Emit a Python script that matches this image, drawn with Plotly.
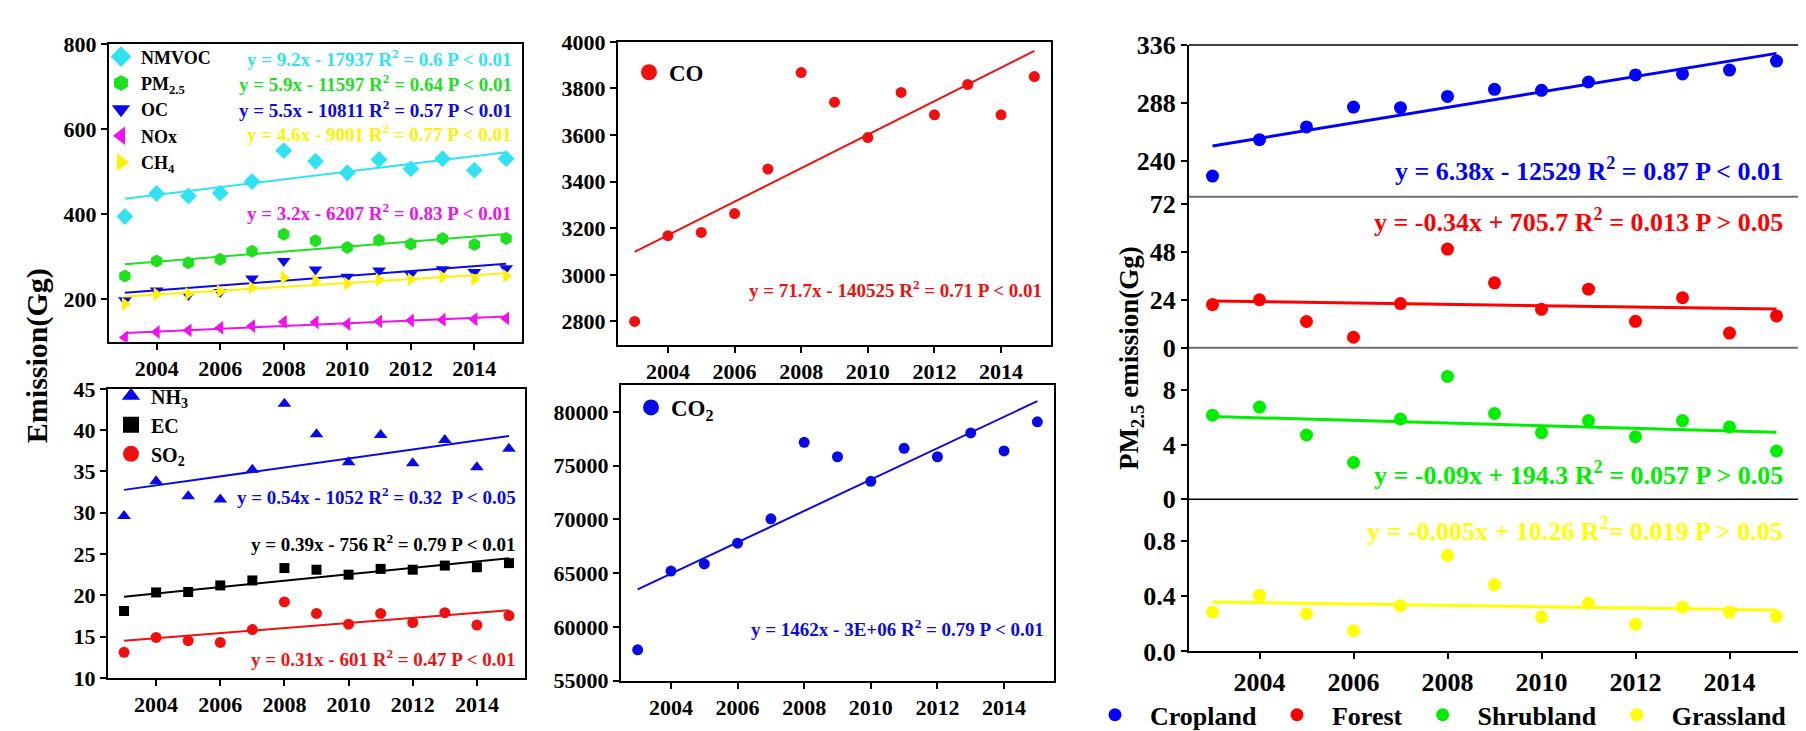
import numpy as np
import plotly.graph_objects as go

W, H = 1806, 731
FONT = "Liberation Serif"

# ---------------- data ----------------
years = list(range(2003, 2016))
tick_years = [2004, 2006, 2008, 2010, 2012, 2014]

nmvoc = [395, 449, 443, 450, 477, 550, 525, 498, 529, 507, 531, 504, 531]
pm25 = [255, 290, 286, 294, 313, 353, 338, 322, 339, 330, 343, 329, 343]
oc = [198, 221, 210, 217, 249, 290, 270, 253, 268, 259, 271, 264, 273]
nox = [110, 123, 127, 133, 137, 147, 146, 142, 148, 150, 152, 153, 155]
ch4 = [189, 212, 213, 219, 228, 251, 244, 237, 246, 247, 253, 247, 255]

nh3 = [29.6, 33.8, 32.0, 31.6, 35.2, 43.2, 39.5, 36.1, 39.4, 36.0, 38.8, 35.5, 37.75]
ec = [18.1, 20.35, 20.4, 21.2, 21.8, 23.3, 23.1, 22.5, 23.2, 23.1, 23.6, 23.4, 23.9]
so2 = [13.1, 14.9, 14.5, 14.3, 15.85, 19.2, 17.8, 16.5, 17.8, 16.7, 17.9, 16.4, 17.55]

co = [2800, 3168, 3182, 3263, 3454, 3868, 3741, 3589, 3783, 3687, 3817, 3687, 3851]
co2 = [57880, 65200, 65860, 67790, 70060, 77170, 75830, 73540, 76610, 75830, 78040, 76370, 79080]

cropland = [227.2, 257.4, 268.0, 284.5, 284.0, 293.3, 299.2, 298.4, 305.3, 311.2, 312.0, 315.2, 322.7]
forest = [21.7, 24.1, 13.2, 5.3, 22.2, 49.5, 32.6, 19.3, 29.4, 13.3, 25.1, 7.4, 16.0]
shrubland = [6.15, 6.74, 4.70, 2.69, 5.87, 8.98, 6.27, 4.87, 5.75, 4.58, 5.75, 5.29, 3.53]
grassland = [0.285, 0.407, 0.273, 0.150, 0.33, 0.695, 0.483, 0.25, 0.348, 0.197, 0.32, 0.285, 0.252]

eq_a = ["y = 9.2x - 17937 R<sup>2</sup> = 0.6 P &lt; 0.01",
        "y = 5.9x - 11597 R<sup>2</sup> = 0.64 P &lt; 0.01",
        "y = 5.5x - 10811 R<sup>2</sup> = 0.57 P &lt; 0.01",
        "y = 4.6x - 9001 R<sup>2</sup> = 0.77 P &lt; 0.01",
        "y = 3.2x - 6207 R<sup>2</sup> = 0.83 P &lt; 0.01"]
eq_b = ["y = 0.54x - 1052 R<sup>2</sup> = 0.32 \u00a0P &lt; 0.05",
        "y = 0.39x - 756 R<sup>2</sup> = 0.79 P &lt; 0.01",
        "y = 0.31x - 601 R<sup>2</sup> = 0.47 P &lt; 0.01"]
eq_c = "y = 71.7x - 140525 R<sup>2</sup> = 0.71 P &lt; 0.01"
eq_d = "y = 1462x - 3E+06 R<sup>2</sup> = 0.79 P &lt; 0.01"
eq_e = ["y = 6.38x - 12529 R<sup>2</sup> = 0.87 P &lt; 0.01",
        "y = -0.34x + 705.7 R<sup>2</sup> = 0.013 P &gt; 0.05",
        "y = -0.09x + 194.3 R<sup>2</sup> = 0.057 P &gt; 0.05",
        "y = -0.005x + 10.26 R<sup>2</sup>= 0.019 P &gt; 0.05"]

# ---------------- colours ----------------
C_CYAN = "#30E2F2"
C_GREEN = "#1EE01E"
C_BLUE = "#0A0AE8"
C_MAG = "#F010F0"
C_YEL = "#FFF200"
C_RED = "#F01010"
C_BLACK = "#000000"
E_BLUE = "#0000FF"
E_RED = "#FF0000"
E_GREEN = "#00EE00"
E_YEL = "#FFFF00"


def px_x(p):
    return p / W


def px_y(p):
    return 1 - p / H


fig = go.Figure()


def fit(vals):
    k, b = np.polyfit(years, vals, 1)
    xs = [years[0], years[-1]]
    return xs, [k * x + b for x in xs]


def add_series(vals, name, color, symbol, size, xa, ya, legend, lw=2, dummy=True, dsize=16):
    fig.add_trace(go.Scatter(x=years, y=vals, mode="markers", name=name,
                             marker=dict(symbol=symbol, size=size, color=color, line=dict(width=0)),
                             xaxis=xa, yaxis=ya, showlegend=not dummy, legend=legend))
    fx, fy = fit(vals)
    fig.add_trace(go.Scatter(x=fx, y=fy, mode="lines", line=dict(color=color, width=lw),
                             xaxis=xa, yaxis=ya, showlegend=False, hoverinfo="skip"))
    if dummy:
        fig.add_trace(go.Scatter(x=[None], y=[None], mode="markers", name=name,
                                 marker=dict(symbol=symbol, size=dsize, color=color),
                                 xaxis=xa, yaxis=ya, showlegend=True, legend=legend))


# Panel A
add_series(nmvoc, "NMVOC", C_CYAN, "diamond", 13, "x", "y", "legend")
add_series(pm25, "PM<sub>2.5</sub>", C_GREEN, "hexagon", 13, "x", "y", "legend")
add_series(oc, "OC", C_BLUE, "triangle-down", 12, "x", "y", "legend")
add_series(nox, "NOx", C_MAG, "triangle-left", 12, "x", "y", "legend")
add_series(ch4, "CH<sub>4</sub>", C_YEL, "triangle-right", 12, "x", "y", "legend")
# Panel B
add_series(nh3, "NH<sub>3</sub>", C_BLUE, "triangle-up", 12, "x2", "y2", "legend2")
add_series(ec, "EC", C_BLACK, "square", 10, "x2", "y2", "legend2")
add_series(so2, "SO<sub>2</sub>", C_RED, "circle", 11, "x2", "y2", "legend2")
# Panel C
add_series(co, "CO", C_RED, "circle", 11, "x3", "y3", "legend3")
# Panel D
add_series(co2, "CO<sub>2</sub>", C_BLUE, "circle", 11, "x4", "y4", "legend4")
# Panel E
add_series(cropland, "Cropland", E_BLUE, "circle", 13, "x5", "y5", "legend5", lw=3, dummy=False)
add_series(forest, "Forest", E_RED, "circle", 13, "x6", "y6", "legend5", lw=3, dummy=False)
add_series(shrubland, "Shrubland", E_GREEN, "circle", 13, "x7", "y7", "legend5", lw=3, dummy=False)
add_series(grassland, "Grassland", E_YEL, "circle", 13, "x8", "y8", "legend5", lw=3, dummy=False)

tickfont_l = dict(family=FONT, size=22, color="black", weight="bold")
tickfont_r = dict(family=FONT, size=26, color="black", weight="bold")


def xax(x0, x1, y_anchor, show_labels=True, showline=True, mirror=True, tf=tickfont_l, visible=True):
    return dict(domain=[px_x(x0), px_x(x1)], range=[2002.5, 2015.5], anchor=y_anchor,
                tickvals=tick_years, showgrid=False, zeroline=False, visible=visible,
                showline=showline, linecolor="black", linewidth=2, mirror=mirror,
                ticks="outside" if show_labels else "", ticklen=6, tickwidth=2, tickcolor="black",
                showticklabels=show_labels, tickfont=tf)


def yax(y0, y1, rng, tickvals, x_anchor, mirror=True, tf=tickfont_l, ticktext=None):
    d = dict(domain=[px_y(y1), px_y(y0)], range=rng, anchor=x_anchor, tickvals=tickvals,
             showgrid=False, zeroline=False, showline=True, linecolor="black", linewidth=2,
             mirror=mirror, ticks="outside", ticklen=6, tickwidth=2, tickcolor="black",
             tickfont=tf, tickformat="d")
    if ticktext is not None:
        d["ticktext"] = ticktext
    return d


layout_axes = dict(
    xaxis=xax(101, 514, "y"),
    yaxis=yax(23.3, 333, [100, 800], [200, 400, 600, 800], "x"),
    xaxis2=xax(100, 517, "y2"),
    yaxis2=yax(382, 683, [10, 45], [10, 15, 20, 25, 30, 35, 40, 45], "x2"),
    xaxis3=xax(610, 1043, "y3"),
    yaxis3=yax(20.7, 336, [2700, 4000], [2800, 3000, 3200, 3400, 3600, 3800, 4000], "x3"),
    xaxis4=xax(613, 1046, "y4"),
    yaxis4=yax(378, 686, [55000, 82500], [55000, 60000, 65000, 70000, 75000, 80000], "x4"),
    xaxis5=xax(1181, 1792, "y5", show_labels=False, showline=False, mirror=False, visible=False),
    yaxis5=yax(24, 182, [210, 336], [240, 288, 336], "x5", mirror=False, tf=tickfont_r),
    xaxis6=xax(1181, 1792, "y6", show_labels=False, showline=False, mirror=False, visible=False),
    yaxis6=yax(182, 339.3, [0, 75.7], [0, 24, 48, 72], "x6", mirror=False, tf=tickfont_r),
    xaxis7=xax(1181, 1792, "y7", show_labels=False, showline=False, mirror=False, visible=False),
    yaxis7=yax(339.3, 497, [0, 11.07], [0, 4, 8], "x7", mirror=False, tf=tickfont_r),
    xaxis8=xax(1181, 1792, "y8", show_labels=True, showline=True, mirror=False, tf=tickfont_r),
    yaxis8=yax(497, 655.5, [0, 1.1], [0, 0.4, 0.8], "x8", mirror=False, tf=tickfont_r,
               ticktext=["0.0", "0.4", "0.8"]),
)

# ---------------- annotations ----------------
ann = []


def eq(text, xr, yc, color, size):
    ann.append(dict(text=text, x=px_x(xr), y=px_y(yc), xref="paper", yref="paper",
                    xanchor="right", yanchor="middle", showarrow=False,
                    font=dict(family=FONT, size=size, color=color, weight="bold")))


for t, yc, c in zip(eq_a, [38, 63, 91, 116, 198], [C_CYAN, C_GREEN, C_BLUE, C_YEL, C_MAG]):
    eq(t, 506, yc, c, 19)
for t, yc, c in zip(eq_b, [494, 543, 662], [C_BLUE, C_BLACK, C_RED]):
    eq(t, 510, yc, c, 19)
eq(eq_c, 1036, 278, C_RED, 19)
eq(eq_d, 1038, 631, C_BLUE, 19)
for t, yc, c in zip(eq_e, [154, 207, 470, 528], [E_BLUE, E_RED, E_GREEN, E_YEL]):
    eq(t, 1777, yc, c, 26)

ann.append(dict(text="Emission(Gg)", x=px_x(29), y=px_y(348), xref="paper", yref="paper",
                textangle=-90, showarrow=False, xanchor="center", yanchor="middle",
                font=dict(family=FONT, size=30, color="black", weight="bold")))
ann.append(dict(text="PM<sub>2.5</sub> emission(Gg)", x=px_x(1123), y=px_y(350), xref="paper",
                yref="paper", textangle=-90, showarrow=False, xanchor="center", yanchor="middle",
                font=dict(family=FONT, size=27, color="black", weight="bold")))

# ---------------- shapes for right panel frame ----------------
shapes = []


def hline(yref, ypos, color, width):
    shapes.append(dict(type="line", xref="x5 domain", yref=yref, x0=0, x1=1, y0=ypos, y1=ypos,
                       line=dict(color=color, width=width), layer="above"))


hline("y5 domain", 1, "black", 1.5)
hline("y5 domain", 0, "#6E6E6E", 2)
hline("y6 domain", 0, "#6E6E6E", 2)
hline("y7 domain", 0, "black", 1.5)
shapes.append(dict(type="line", xref="paper", yref="paper", x0=px_x(1792), x1=px_x(1792),
                   y0=px_y(655.5), y1=px_y(24), line=dict(color="#777777", width=2)))

leg_common = dict(bgcolor="rgba(0,0,0,0)", borderwidth=0, xanchor="left", yanchor="top",
                  tracegroupgap=0, itemsizing="trace")

fig.update_layout(
    width=W, height=H, margin=dict(l=0, r=0, t=0, b=0),
    paper_bgcolor="white", plot_bgcolor="white",
    font=dict(family=FONT, color="black"),
    annotations=ann, shapes=shapes,
    legend=dict(x=px_x(93), y=px_y(17), font=dict(family=FONT, size=18, color="black", weight="bold"), **leg_common),
    legend2=dict(x=px_x(103), y=px_y(369), font=dict(family=FONT, size=20, color="black", weight="bold"), **leg_common),
    legend3=dict(x=px_x(621), y=px_y(30), font=dict(family=FONT, size=23, color="black", weight="bold"), **leg_common),
    legend4=dict(x=px_x(623), y=px_y(379), font=dict(family=FONT, size=23, color="black", weight="bold"), **leg_common),
    legend5=dict(x=px_x(1072), y=px_y(697), orientation="h", itemwidth=60,
                 font=dict(family=FONT, size=26, color="black", weight="bold"),
                 bgcolor="rgba(0,0,0,0)", borderwidth=0, xanchor="left", yanchor="top",
                 itemsizing="trace"),
    showlegend=True,
    **layout_axes,
)

fig.write_html("out.html")
